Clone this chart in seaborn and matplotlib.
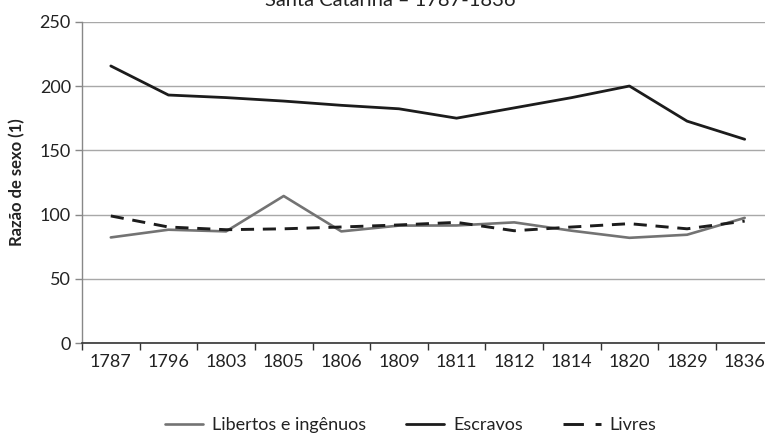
import matplotlib
matplotlib.use("Agg")
import matplotlib.pyplot as plt
import seaborn as sns
import pandas as pd
import numpy as np

years = ["1787", "1796", "1803", "1805", "1806", "1809", "1811", "1812", "1814", "1820", "1829", "1836"]
libertos = [82.3, 88.3, 87.0, 114.5, 87.0, 91.5, 91.6, 94.0, 87.5, 82.0, 84.4, 97.5]
escravos = [215.6, 193.0, 191.0, 188.3, 185.0, 182.3, 175.0, 183.0, 191.0, 200.0, 172.7, 158.6]
livres = [99.0, 90.4, 88.3, 89.0, 90.4, 92.0, 94.0, 87.5, 90.4, 93.0, 89.0, 95.0]
series_names = ["Libertos e ingênuos", "Escravos", "Livres"]
yticks = [0, 50, 100, 150, 200, 250]

sns.set_theme(style="white")
plt.rcParams['font.family'] = ['Lato', 'DejaVu Sans']

df = pd.DataFrame({
    "Ano": years * 3,
    "Valor": libertos + escravos + livres,
    "Serie": [series_names[0]] * 12 + [series_names[1]] * 12 + [series_names[2]] * 12,
})

fig = plt.figure(figsize=(7.65, 4.37), dpi=100)
ax = fig.add_axes([82 / 765, (437 - 343.3) / 437, (773.5 - 82) / 765, (343.3 - 21.7) / 437])

palette = {series_names[0]: "#737373", series_names[1]: "#1c1c1c", series_names[2]: "#1c1c1c"}
sns.lineplot(data=df, x="Ano", y="Valor", hue="Serie", palette=palette, ax=ax,
             sort=False, linewidth=2.0, legend=False)

lines = ax.get_lines()
lines[0].set_linewidth(1.9)
lines[2].set_dashes([4.5, 3.0])
lines[2].set_linewidth(2.1)

ax.set_xlim(-0.5, 11.5)
ax.set_ylim(0, 250)
ax.set_yticks(yticks)
ax.set_yticklabels([str(v) for v in yticks], fontsize=13, color="#222222")
ax.set_xticks(range(len(years)))
ax.set_xticklabels(years, fontsize=13, color="#222222")
ax.set_xticks(np.arange(-0.5, 12, 1.0), minor=True)
ax.tick_params(axis="x", which="major", length=0, pad=8)
ax.tick_params(axis="x", which="minor", length=5, width=1, color="#333333", direction="out", bottom=True)
ax.tick_params(axis="y", length=5, width=1, color="#888888", direction="out", left=True, pad=3)

ax.yaxis.grid(True, color="#a8a8a8", linewidth=1)
ax.xaxis.grid(False)
ax.set_axisbelow(True)
for s in ["top", "right"]:
    ax.spines[s].set_visible(False)
ax.spines["left"].set_color("#888888")
ax.spines["left"].set_linewidth(1)
ax.spines["bottom"].set_color("#333333")
ax.spines["bottom"].set_linewidth(1.2)

ax.set_xlabel("")
ax.set_ylabel("Razão de sexo (1)", fontsize=12, fontweight="bold", color="#222222", labelpad=10)

fig.text(390 / 765, 1 - 6 / 437, "Santa Catarina – 1787-1836", ha="center", va="baseline",
         fontsize=14.5, color="#222222")

handles = [
    plt.Line2D([], [], color="#737373", linewidth=1.9),
    plt.Line2D([], [], color="#1c1c1c", linewidth=2.0),
    plt.Line2D([], [], color="#1c1c1c", linewidth=2.1, dashes=[7.0, 4.0]),
]
fig.legend(handles, series_names, loc="center", bbox_to_anchor=(411 / 765, 12 / 437), ncol=3,
           frameon=False, fontsize=13, handlelength=2.1, columnspacing=2.2, handletextpad=0.5,
           labelcolor="#222222")

fig.savefig("out.png", dpi=100)
